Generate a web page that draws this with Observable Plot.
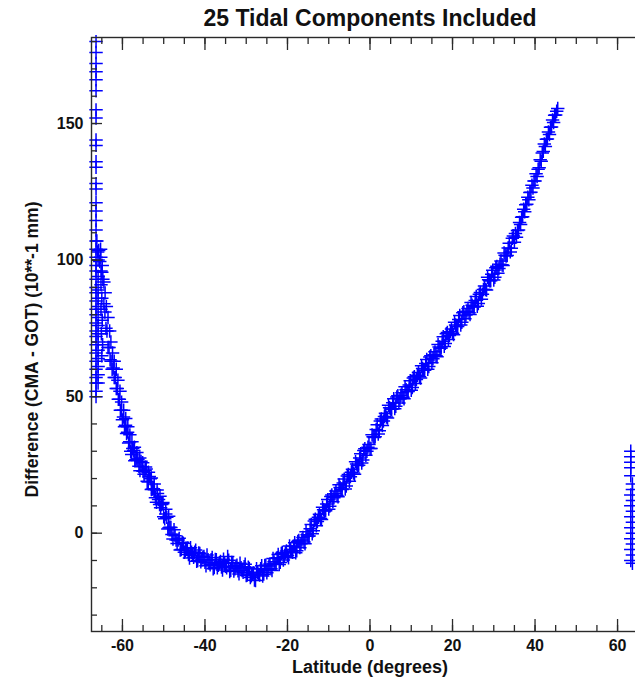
<!DOCTYPE html>
<html><head><meta charset="utf-8">
<script src="https://cdn.jsdelivr.net/npm/d3@7"></script>
<script src="https://cdn.jsdelivr.net/npm/@observablehq/plot@0.6"></script>
<style>body{margin:0;background:#fff;overflow:hidden}</style>
</head><body><div id="chart"></div>
<script>
const title = "25 Tidal Components Included";
const xLabel = "Latitude (degrees)";
const yLabel = "Difference (CMA - GOT) (10**-1 mm)";
const xMajorTicks = [-60, -40, -20, 0, 20, 40, 60];
const xMinorTicks = [-65, -60, -55, -50, -45, -40, -35, -30, -25, -20, -15, -10, -5, 0, 5, 10, 15, 20, 25, 30, 35, 40, 45, 50, 55, 60, 65];
const yMajorTicks = [0, 50, 100, 150];
const yMinorTicks = [-30, -20, -10, 0, 10, 20, 30, 40, 50, 60, 70, 80, 90, 100, 110, 120, 130, 140, 150, 160, 170, 180];

// vertical cluster of crossings at the southern edge
const southEdge = [
  [-66.4,180],[-66.4,176],[-66.4,172],[-66.4,169],[-66.4,166],[-66.4,162],[-66.4,155],[-66.4,152],
  [-66.4,144],[-66.4,142],[-66.4,136],[-66.4,134],[-66.4,128],[-66.4,126],[-66.4,121],[-66.4,118],
  [-66.4,114.5],[-66.4,111],[-66.4,107],[-66.4,104],[-66.4,101],[-66.4,98],[-66.4,96],[-66.4,93],
  [-66.4,90],[-66.4,88],[-66.4,85],[-66.4,82],[-66.4,80],[-66.4,77],[-66.4,74],[-66.4,72],
  [-66.4,69],[-66.4,66],[-66.4,63],[-66.4,60],[-66.4,57],[-66.4,55],[-66.4,52],[-66.4,50],
  [-65.9,100],[-65.9,94],[-65.9,89],[-65.9,86],[-65.9,83],[-65.9,79],[-65.9,76],[-65.9,73],
  [-65.9,70],[-65.9,67],[-65.9,64],[-65.9,61],[-65.9,58],[-65.9,55],
  [-65.2,96],[-65.2,91],[-65.0,86],[-65.2,82],[-64.9,78],[-65.1,73],[-64.8,69],[-65.0,65]
];

// steep southern limb
const southLimb = [
  [-66.2,107],[-66.0,103],[-65.75,103.5],[-65.5,99.5],[-65.25,101],[-65.0,95.5],[-64.75,93],[-64.5,84],
  [-64.25,81],[-64.0,75],[-63.75,74],[-63.5,68],[-63.25,68],[-63.0,63.5],[-62.75,63],[-62.5,60],
  [-62.25,60.5],[-62.0,57],[-61.75,57],[-61.5,53],[-61.25,53],[-61.0,49],[-60.75,49],[-60.5,45],
  [-60.25,45],[-60.0,41.5],[-59.75,42.5],[-59.5,39],[-59.25,39.5],[-59.0,36.5],[-58.75,37],[-58.5,33],
  [-58.25,33.5],[-58.0,30]
];

// outer edge of the southern limb band
const southLimbFill = [
  [-65.3,104],[-64.9,98],[-64.5,92],[-64.2,88],[-63.9,83],[-63.5,79],[-63.1,74],[-62.8,70],
  [-62.4,66],[-62.0,63],[-61.5,60],[-61.1,56],[-60.6,52],[-60.2,48],[-59.7,45],[-59.2,42],
  [-58.7,39],[-58.2,36],[-57.7,33.5],[-57.1,31.5],[-56.5,29.5],[-55.8,27.5],[-55.1,25.8],[-54.4,24.2],
  [-53.7,22.3],[-53.0,20.2],[-52.3,18],[-51.6,15.8],[-50.9,13.5],[-50.2,11.2],[-49.5,8.8],[-48.8,6.2]
];

// main body of the curve
const mainCurve = [
  [-57.5,31],[-57.0,26.5],[-56.5,27.2],[-56.0,24.5],[-55.5,26.3],[-55.0,22.7],[-54.5,23],[-54.0,19],
  [-53.5,20.8],[-53.0,16],[-52.5,16.3],[-52.0,13],[-51.5,14.5],[-51.0,10.5],[-50.5,10.5],[-50.0,6],
  [-49.5,7],[-49.0,1.5],[-48.5,2.2],[-48.0,-0.5],[-47.5,1.3],[-47.0,-2.5],[-46.5,-2.5],[-46.0,-6.2],
  [-45.5,-3.3],[-45.0,-7],[-44.5,-5.7],[-44.0,-7.8],[-43.5,-5.3],[-43.0,-8.1],[-42.5,-7],[-42.0,-10.3],
  [-41.5,-7.2],[-41.0,-10.5],[-40.5,-8.8],[-40.0,-10.7],[-39.5,-8],[-39.0,-10.9],[-38.5,-9.7],[-38.0,-13],
  [-37.5,-9.6],[-37.0,-12.7],[-36.5,-10.8],[-36.0,-12.4],[-35.5,-9.5],[-35.0,-12.1],[-34.5,-8.5],[-34.0,-14],
  [-33.5,-10.7],[-33.0,-13.9],[-32.5,-12.1],[-32.0,-13.8],[-31.5,-11],[-31.0,-13.7],[-30.5,-12.3],[-30.0,-15.5],
  [-29.5,-12.5],[-29.0,-16.2],[-28.5,-15],[-28.0,-17.2],[-27.5,-13],[-27.0,-15],[-26.5,-13],[-26.0,-15.7],
  [-25.5,-11.8],[-25.0,-14.5],[-24.5,-12],[-24.0,-13],[-23.5,-9.3],[-23.0,-11.2],[-22.5,-9],[-22.0,-11.5],
  [-21.5,-7.4],[-21.0,-9.8],[-20.5,-7.2],[-20.0,-8.2],[-19.5,-4.7],[-19.0,-6.7],[-18.5,-4.8],[-18.0,-7.2],
  [-17.5,-3],[-17.0,-5.3],[-16.5,-2.5],[-16.0,-3.2],[-15.5,0.5],[-15.0,-1.1],[-14.5,1.6],[-14.0,-0.2],
  [-13.5,4.5],[-13.0,2.7],[-12.5,5.8],[-12.0,5.4],[-11.5,9.5],[-11.0,8.1],[-10.5,10.7],[-10.0,8.8],
  [-9.5,13.4],[-9.0,11.5],[-8.5,14.4],[-8.0,13.8],[-7.5,17.7],[-7.0,16.1],[-6.5,18.4],[-6.0,16.2],
  [-5.5,20.9],[-5.0,19],[-4.5,22.3],[-4.0,22],[-3.5,26.2],[-3.0,24.8],[-2.5,27.5],[-2.0,25.7],
  [-1.5,30.3],[-1.0,28.5],[-0.5,31.5],[0.0,31],[0.5,36],[1.0,35],[1.5,38],[2.0,36.3],
  [2.5,41.1],[3.0,39.4],[3.5,42.7],[4.0,42.5],[4.5,46.8],[5.0,45.5],[5.5,47.8],[6.0,45.6],
  [6.5,49.9],[7.0,47.7],[7.5,50.5],[8.0,49.8],[8.5,53.6],[9.0,51.9],[9.5,54.3],[10.0,52.3],
  [10.5,56.8],[11.0,54.8],[11.5,57.8],[12.0,57.3],[12.5,61.3],[13.0,59.7],[13.5,62.1],[14.0,60],
  [14.5,64.5],[15.0,62.4],[15.5,65.3],[16.0,65],[16.5,69.1],[17.0,67.7],[17.5,70.3],[18.0,68.4],
  [18.5,73],[19.0,70.9],[19.5,73.8],[20.0,73.2],[20.5,77.2],[21.0,75.7],[21.5,78.2],[22.0,76.2],
  [22.5,80.7],[23.0,78.5],[23.5,81.3],[24.0,80.7],[24.5,84.5],[25.0,82.9],[25.5,85.2],[26.0,83.1],
  [26.5,87.5],[27.0,85.7],[27.5,89.2],[28.0,89.2],[28.5,93.7],[29.0,92.4],[29.5,94.8],[30.0,92.7],
  [30.5,97.2],[31.0,95.2],[31.5,98.5],[32.0,98.3],[32.5,102.6],[33.0,101.5],[33.5,104.4],[34.0,103],
  [34.5,108],[35.0,106.5]
];

// second pass of crossings between those above (the curve is a thick band)
const mainCurveFill = [
  [-57.75,28.8],[-57.25,30.3],[-56.75,26.9],[-56.25,27.1],[-55.75,22.9],[-55.25,24.3],[-54.75,21.6],[-54.25,23.5],
  [-53.75,18.7],[-53.25,19.9],[-52.75,16.2],[-52.25,15.9],[-51.75,11.3],[-51.25,12.3],[-50.75,9.3],[-50.25,10.8],
  [-49.75,5.3],[-49.25,5.8],[-48.75,1.9],[-48.25,2.1],[-47.75,-2.1],[-47.25,-0.9],[-46.75,-3.8],[-46.25,-1.9],
  [-45.75,-6],[-45.25,-3.7],[-44.75,-6.4],[-44.25,-5.5],[-43.75,-9.1],[-43.25,-7],[-42.75,-8.8],[-42.25,-6.2],
  [-41.75,-10],[-41.25,-7.4],[-40.75,-9.7],[-40.25,-8.5],[-39.75,-11.9],[-39.25,-9.7],[-38.75,-11.6],[-38.25,-8.9],
  [-37.75,-12.6],[-37.25,-9.7],[-36.75,-11.8],[-36.25,-10.4],[-35.75,-13.5],[-35.25,-11],[-34.75,-12.7],[-34.25,-9.9],
  [-33.75,-13.6],[-33.25,-10.8],[-32.75,-13],[-32.25,-11.7],[-31.75,-14.9],[-31.25,-12.6],[-30.75,-14.3],[-30.25,-11.4],
  [-29.75,-15.3],[-29.25,-12.9],[-28.75,-15.6],[-28.25,-14.6],[-27.75,-17.3],[-27.25,-14.3],[-26.75,-15.3],[-26.25,-11.9],
  [-25.75,-15],[-25.25,-11.7],[-24.75,-13.3],[-24.25,-11.3],[-23.75,-13.7],[-23.25,-10.5],[-22.75,-11.4],[-22.25,-7.8],
  [-21.75,-10.7],[-21.25,-7.1],[-20.75,-8.5],[-20.25,-6.5],[-19.75,-9],[-19.25,-6],[-18.75,-7],[-18.25,-3.5],
  [-17.75,-6.4],[-17.25,-2.7],[-16.75,-3.9],[-16.25,-1.6],[-15.75,-3.9],[-15.25,-0.6],[-14.75,-1],[-14.25,3.2],
  [-13.75,0.9],[-13.25,5.1],[-12.75,4.3],[-12.25,6.9],[-11.75,5],[-11.25,8.6],[-10.75,8.2],[-10.25,12.3],
  [-9.75,9.9],[-9.25,14],[-8.75,13],[-8.25,15.4],[-7.75,13.3],[-7.25,16.7],[-6.75,16],[-6.25,19.8],
  [-5.75,17.3],[-5.25,21.5],[-4.75,20.7],[-4.25,23.4],[-3.75,21.6],[-3.25,25.3],[-2.75,24.9],[-2.25,29.1],
  [-1.75,26.8],[-1.25,30.9],[-0.75,30],[-0.25,32.5],[0.25,31],[0.75,35.3],[1.25,35.3],[1.75,39.7],
  [2.25,37.5],[2.75,41.8],[3.25,41.1],[3.75,43.9],[4.25,42.2],[4.75,45.9],[5.25,45.4],[5.75,49.2],
  [6.25,46.5],[6.75,50.3],[7.25,49.1],[7.75,51.4],[8.25,49.2],[8.75,52.5],[9.25,51.9],[9.75,55.8],
  [10.25,53.3],[10.75,57.3],[11.25,56.3],[11.75,58.8],[12.25,56.8],[12.75,60.3],[13.25,59.7],[13.75,63.6],
  [14.25,61],[14.75,65],[15.25,63.9],[15.75,66.4],[16.25,64.6],[16.75,68.2],[17.25,67.8],[17.75,71.9],
  [18.25,69.5],[18.75,73.5],[19.25,72.4],[19.75,74.8],[20.25,72.7],[20.75,76.2],[21.25,75.7],[21.75,79.7],
  [22.25,77.2],[22.75,81.1],[23.25,79.9],[23.75,82.3],[24.25,80.1],[24.75,83.5],[25.25,82.8],[25.75,86.7],
  [26.25,84.1],[26.75,88.1],[27.25,87.5],[27.75,90.5],[28.25,89],[28.75,92.8],[29.25,92.4],[29.75,96.3],
  [30.25,93.7],[30.75,97.7],[31.25,96.9],[31.75,99.7],[32.25,98],[32.75,101.8],[33.25,101.7],[33.75,106.2],
  [34.25,104.3],[34.75,108.8]
];

// steep northern limb
const northLimb = [
  [35.25,109.7],[35.5,108.4],[35.75,110.8],[36.0,111],[36.25,113.8],[36.5,113],[36.75,115.7],[37.0,115.9],
  [37.25,118.6],[37.5,117.7],[37.75,120.3],[38.0,120.4],[38.25,123],[38.5,122.1],[38.75,124.7],[39.0,124.8],
  [39.25,127.4],[39.5,126.4],[39.75,129],[40.0,129],[40.25,131.6],[40.5,130.6],[40.75,133.3],[41.0,133.8],
  [41.25,136.7],[41.5,136.2],[41.75,139.2],[42.0,139.8],[42.25,142.5],[42.5,141.6],[42.75,144.2],[43.0,144.3],
  [43.25,146.9],[43.5,146],[43.75,148.6],[44.0,148.7],[44.25,151.3],[44.5,150.4],[44.75,153],[45.0,153.1],
  [45.25,154.5],[45.5,155.5]
];

// vertical cluster near the northern edge (cut by the image border)
const northEdge = [
  [63.2,30],[63.2,28],[63.2,26],[63.2,24],[63.2,21],[63.6,18],[63.6,16],[63.2,14],[63.6,12],[63.2,10],
  [63.6,8],[63.2,6],[63.6,4],[63.2,2],[63.6,0],[63.2,-2],[63.6,-4],[63.2,-6],[63.6,-8],[63.2,-10],[63.6,-11]
];

const points = [...southEdge, ...southLimb, ...southLimbFill, ...mainCurve, ...mainCurveFill, ...northLimb, ...northEdge]
  .map(([lat, val]) => ({lat, val}));

const font = "'Liberation Sans', Arial, Helvetica, sans-serif";
const ink = "#2a2a2a";

const chart = Plot.plot({
  width: 635,
  height: 679,
  marginLeft: 91,
  marginRight: -13,
  marginTop: 37,
  marginBottom: 48,
  style: {fontFamily: font, background: "#fff", color: ink},
  x: {domain: [-67.5, 67.5]},
  y: {domain: [-36, 181.5]},
  marks: [
    Plot.dot(points, {x: "lat", y: "val", symbol: "plus", r: 4.4, stroke: "#0000ff", strokeWidth: 1.5}),
    Plot.frame({stroke: ink, strokeWidth: 1.4}),
    Plot.axisX(xMinorTicks, {anchor: "bottom", tickSize: -6, text: null, label: null, strokeWidth: 1.3}),
    Plot.axisX(xMajorTicks, {anchor: "bottom", tickSize: -12, text: null, label: null, strokeWidth: 1.3}),
    Plot.axisX(xMinorTicks, {anchor: "top", tickSize: -6, text: null, label: null, strokeWidth: 1.3}),
    Plot.axisX(xMajorTicks, {anchor: "top", tickSize: -12, text: null, label: null, strokeWidth: 1.3}),
    Plot.axisX(xMajorTicks, {anchor: "bottom", tickSize: 0, tickPadding: 8, label: null, fontSize: 16, fontWeight: "bold", fill: "#111", tickFormat: d => String(d)}),
    Plot.axisY(yMinorTicks, {anchor: "left", tickSize: -6, text: null, label: null, strokeWidth: 1.3}),
    Plot.axisY(yMajorTicks, {anchor: "left", tickSize: -11, text: null, label: null, strokeWidth: 1.3}),
    Plot.axisY(yMajorTicks, {anchor: "left", tickSize: 0, tickPadding: 8, label: null, fontSize: 16, fontWeight: "bold", fill: "#111", tickFormat: d => String(d)}),
    Plot.text([title], {frameAnchor: "top", dy: -19, lineAnchor: "middle", fontSize: 23, fontWeight: "bold", fill: "#111"}),
    Plot.text([xLabel], {frameAnchor: "bottom", dy: 36, lineAnchor: "middle", textAnchor: "middle", fontSize: 18, fontWeight: "bold", fill: "#111"}),
    Plot.text([yLabel], {frameAnchor: "left", rotate: -90, dx: -59, dy: 15, textAnchor: "middle", lineAnchor: "middle", fontSize: 17.5, fontWeight: "bold", fill: "#111"})
  ]
});
document.getElementById("chart").appendChild(chart);
</script>
</body></html>
